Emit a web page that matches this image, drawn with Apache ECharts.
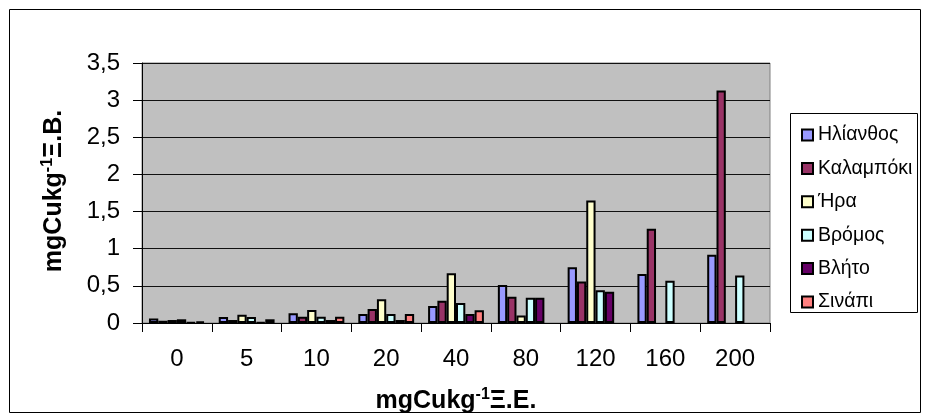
<!DOCTYPE html>
<html>
<head>
<meta charset="utf-8">
<script src="https://cdn.jsdelivr.net/npm/echarts@6/dist/echarts.min.js"></script>
<style>html,body{margin:0;padding:0;background:#fff;}#c{width:928px;height:414px;}</style>
</head>
<body>
<div id="c"></div>
<script>
const categories = ['0', '5', '10', '20', '40', '80', '120', '160', '200'];
const seriesNames = ['Ηλίανθος', 'Καλαμπόκι', 'Ήρα', 'Βρόμος', 'Βλήτο', 'Σινάπι'];
const ilianthos = [0.06, 0.08, 0.13, 0.12, 0.23, 0.51, 0.75, 0.66, 0.92];
const kalampoki = [0.03, 0.04, 0.085, 0.19, 0.30, 0.355, 0.56, 1.27, 3.13];
const ira = [0.04, 0.11, 0.175, 0.32, 0.67, 0.10, 1.65, null, null];
const vromos = [0.05, 0.08, 0.085, 0.12, 0.27, 0.34, 0.44, 0.57, 0.64];
const vlito = [0.01, 0.01, 0.04, 0.04, 0.12, 0.34, 0.42, null, null];
const sinapi = [0.02, 0.05, 0.085, 0.12, 0.17, null, null, null, null];
const yTicks = [0, 0.5, 1, 1.5, 2, 2.5, 3, 3.5];
const colors = ['#9999FF', '#993366', '#FFFFCC', '#CCFFFF', '#660066', '#FF8080'];
const allData = [ilianthos, kalampoki, ira, vromos, vlito, sinapi];

const FONT = '"Liberation Sans", Arial, sans-serif';
const chart = echarts.init(document.getElementById('c'), null, {renderer: 'canvas'});

const titleRich = {
  a: {fontSize: 25, fontWeight: 'bold', fontFamily: FONT, color: '#000', lineHeight: 30},
  s: {fontSize: 16, fontWeight: 'bold', fontFamily: FONT, color: '#000', lineHeight: 30, padding: [0, 0, 13, 0]}
};

chart.setOption({
  animation: false,
  color: colors,
  textStyle: {fontFamily: FONT},
  grid: {
    left: 142, right: 158, top: 63, bottom: 91,
    show: true, backgroundColor: '#C0C0C0', borderColor: '#808080', borderWidth: 1
  },
  legend: {
    orient: 'vertical',
    left: 796, top: 120,
    itemWidth: 11, itemHeight: 11,
    itemGap: 13.4,
    icon: 'rect',
    itemStyle: {borderColor: '#000', borderWidth: 2},
    textStyle: {fontSize: 19.5, color: '#000', fontFamily: FONT, lineHeight: 20},
    data: seriesNames
  },
  xAxis: {
    type: 'category',
    data: categories,
    axisLine: {lineStyle: {color: '#000', width: 1}},
    axisTick: {show: true, length: 9, lineStyle: {color: '#000'}},
    axisLabel: {fontSize: 24, color: '#000', margin: 24, fontFamily: FONT},
    splitLine: {show: false}
  },
  yAxis: {
    type: 'value',
    min: 0, max: 3.5, interval: 0.5,
    axisLine: {show: true, lineStyle: {color: '#000', width: 1}},
    axisTick: {show: true, length: 9, lineStyle: {color: '#000'}},
    axisLabel: {
      fontSize: 24, color: '#000', margin: 22, fontFamily: FONT,
      formatter: v => yTicks.indexOf(v) >= 0 ? String(v).replace('.', ',') : ''
    },
    splitLine: {show: true, lineStyle: {color: '#111', width: 1}}
  },
  series: seriesNames.map((n, i) => ({
    name: n,
    type: 'bar',
    data: allData[i],
    barGap: '0%',
    barCategoryGap: '20%',
    itemStyle: {color: colors[i], borderColor: '#000', borderWidth: 2}
  })),
  graphic: [
    {type: 'rect', shape: {x: 9.5, y: 9.5, width: 911, height: 403}, style: {fill: 'none', stroke: '#000', lineWidth: 1}, silent: true, z: 0},
    {type: 'rect', shape: {x: 790.5, y: 113.5, width: 127, height: 199}, style: {fill: 'none', stroke: '#000', lineWidth: 1}, silent: true, z: 0},
    {type: 'text', x: 456, y: 401, style: {text: '{a|mgCukg}{s|-1}{a|Ξ.Ε.}', rich: titleRich, align: 'center', verticalAlign: 'middle'}},
    {type: 'text', x: 54, y: 191, rotation: Math.PI / 2, style: {text: '{a|mgCukg}{s|-1}{a|Ξ.Β.}', rich: titleRich, align: 'center', verticalAlign: 'middle'}}
  ]
});
</script>
</body>
</html>
